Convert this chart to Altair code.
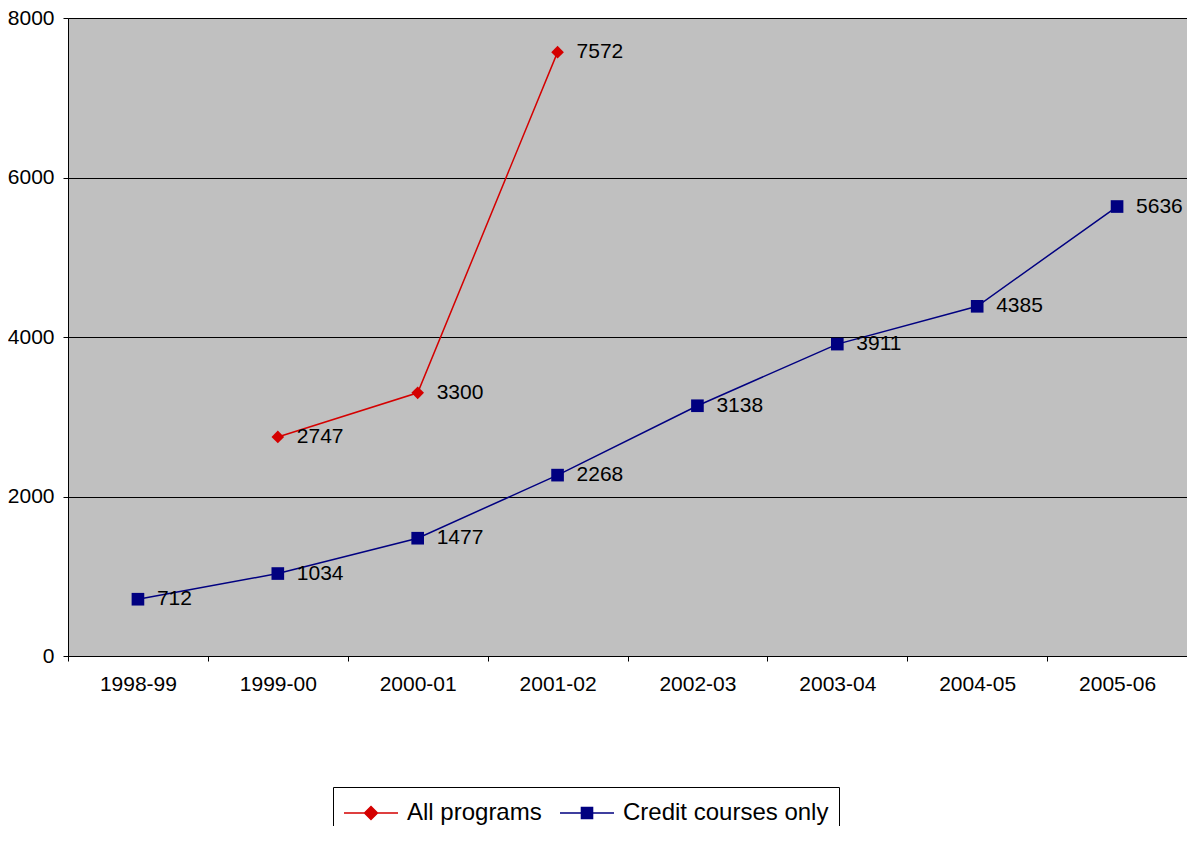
import altair as alt
import pandas as pd

years = ["1998-99", "1999-00", "2000-01", "2001-02", "2002-03", "2003-04", "2004-05", "2005-06"]
all_programs = [None, 2747, 3300, 7572, None, None, None, None]
credit_only = [712, 1034, 1477, 2268, 3138, 3911, 4385, 5636]
series_names = ["All programs", "Credit courses only"]
series_colors = ["#D40000", "#000080"]
point_shapes = ["diamond", "square"]
# legend glyphs: a line with the marker in its middle (unit = half the nominal symbol size)
legend_shapes = [
    "M-1,0L2.6,0M0.8,-0.43L1.23,0L0.8,0.43L0.37,0Z",
    "M-1,0L2.6,0M0.43,-0.37L1.17,-0.37L1.17,0.37L0.43,0.37Z",
]
y_ticks = [0, 2000, 4000, 6000, 8000]

rows = []
for yr, v in zip(years, all_programs):
    if v is not None:
        rows.append({"year": yr, "value": v, "series": series_names[0]})
for yr, v in zip(years, credit_only):
    rows.append({"year": yr, "value": v, "series": series_names[1]})
df = pd.DataFrame(rows)

FONT = "Liberation Sans"
FS = 21

x = alt.X(
    "year:N",
    sort=years,
    bandPosition=0.5,
    scale=alt.Scale(type="band", domain=years, paddingInner=0, paddingOuter=0),
    axis=alt.Axis(
        title=None, labelFontSize=FS, labelFont=FONT, labelColor="black",
        tickBand="extent", tickSize=5, tickColor="black", domainColor="black",
        labelPadding=12, labelAngle=0, grid=False,
    ),
)
y = alt.Y(
    "value:Q",
    scale=alt.Scale(domain=[0, 8000], nice=False),
    axis=alt.Axis(
        title=None, values=y_ticks, format="d", labelFontSize=FS, labelFont=FONT, labelColor="black",
        tickSize=5, tickColor="black", domainColor="black", labelPadding=9,
        grid=True, gridColor="black", gridWidth=1, gridOpacity=1,
    ),
)
color = alt.Color("series:N", scale=alt.Scale(domain=series_names, range=series_colors), legend=None)

base = alt.Chart(df)
lines = base.mark_line(strokeWidth=1.5).encode(x=x, y=y, color=color, detail="series:N")
points = base.mark_point(filled=True, size=160, opacity=1).encode(
    x=x, y=y, color=color,
    shape=alt.Shape("series:N", scale=alt.Scale(domain=series_names, range=point_shapes), legend=None),
)
labels = base.mark_text(align="left", baseline="middle", dx=19, fontSize=FS, font=FONT, color="black").encode(
    x=x, y=y, text="value:Q"
)
main = alt.layer(lines, points, labels)

leg = alt.Legend(
    title=None, orient="none", legendX=265, legendY=769, direction="horizontal",
    strokeColor="black", fillColor="white", padding=10,
    labelFontSize=24, labelFont=FONT, labelColor="black", labelOffset=32, labelLimit=400,
    columnPadding=15, symbolSize=900, symbolStrokeWidth=1.5, symbolOpacity=1,
)
legend_layer = alt.Chart(df).transform_filter("false").mark_point(filled=True, strokeWidth=1.5, opacity=1).encode(
    fill=alt.Fill("series:N", scale=alt.Scale(domain=series_names, range=series_colors), legend=leg),
    stroke=alt.Stroke("series:N", scale=alt.Scale(domain=series_names, range=series_colors), legend=leg),
    shape=alt.Shape("series:N", scale=alt.Scale(domain=series_names, range=legend_shapes), legend=leg),
)

chart = (
    alt.layer(main, legend_layer)
    .resolve_scale(color="independent", shape="independent", fill="independent", stroke="independent")
    .properties(
        width=1119, height=638,
        autosize=alt.AutoSizeParams(type="none"),
        padding={"left": 60, "top": 10, "right": 0, "bottom": 170},
        background="white",
        view=alt.ViewBackground(fill="#C0C0C0", stroke="#808080", strokeWidth=1),
    )
    .configure_view(fill="#C0C0C0", stroke="#808080", strokeWidth=1)
    .configure(font=FONT)
)

chart.save("out.html", embed_options={"renderer": "svg", "actions": False})
